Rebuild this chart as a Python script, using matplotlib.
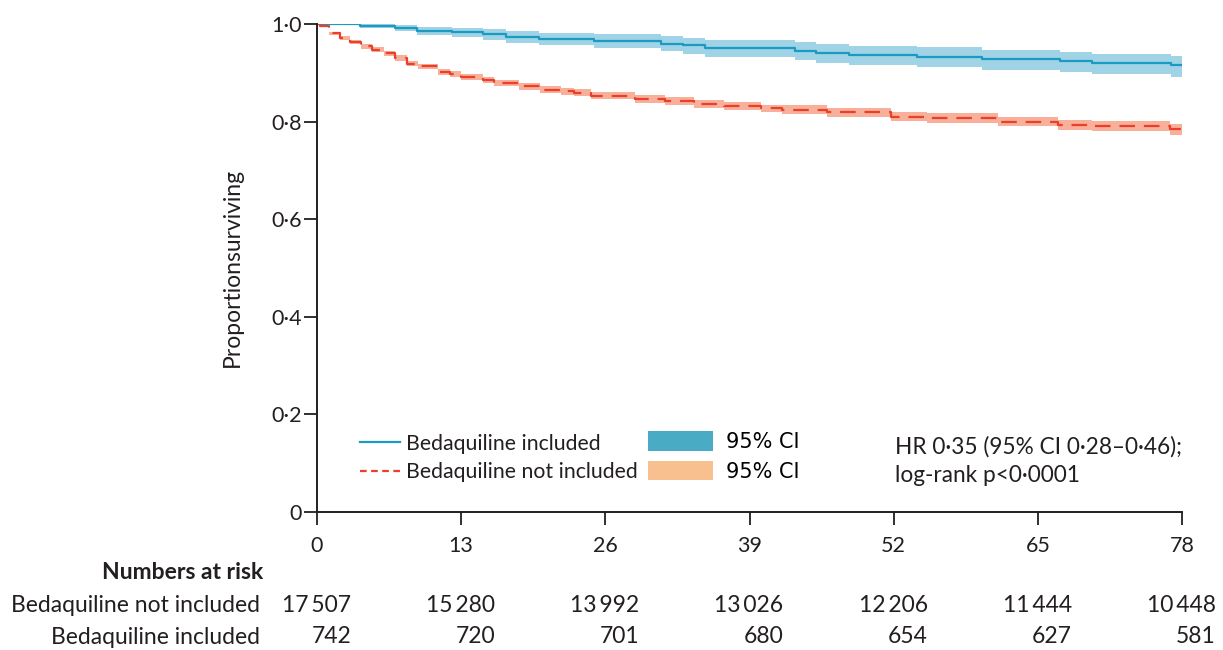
import matplotlib
matplotlib.use("Agg")
import matplotlib.pyplot as plt
from matplotlib.lines import Line2D
from matplotlib.patches import Patch
from matplotlib.transforms import offset_copy

plt.rcParams['font.family'] = ['Lato', 'DejaVu Sans']

# Kaplan-Meier step estimates (weeks since treatment start)
bdq_weeks = [0, 3.9, 7, 9, 12.2, 15, 17, 20, 25, 31, 33, 35, 43.1, 45, 48, 54.1, 60, 67, 69.9, 77, 78]
bdq_surv = [1.0, 0.996, 0.991, 0.986, 0.983, 0.979, 0.974, 0.969, 0.965, 0.960, 0.956,
            0.950, 0.945, 0.941, 0.937, 0.933, 0.928, 0.924, 0.920, 0.915, 0.915]
bdq_upper = [1.0, 0.999, 0.997, 0.994, 0.992, 0.989, 0.986, 0.982, 0.979, 0.975, 0.972,
             0.967, 0.963, 0.959, 0.955, 0.952, 0.947, 0.943, 0.939, 0.934, 0.934]
bdq_lower = [1.0, 0.991, 0.985, 0.978, 0.974, 0.968, 0.962, 0.956, 0.950, 0.944, 0.939,
             0.932, 0.926, 0.921, 0.916, 0.912, 0.906, 0.901, 0.897, 0.891, 0.891]

nobdq_weeks = [0, 0.3, 1.1, 2.1, 3.0, 4.0, 5.0, 6.0, 7.0, 8.1, 9.1, 10.9, 12.0, 13.0, 15.0,
               16.0, 18.2, 20.1, 22.0, 23.2, 24.7, 28.7, 31.4, 34.0, 36.7, 40.0, 41.9, 46.0,
               51.8, 55.0, 61.4, 66.8, 69.9, 76.9, 78.0]
nobdq_surv = [1.0, 0.995, 0.981, 0.971, 0.964, 0.954, 0.947, 0.940, 0.930, 0.919, 0.913,
              0.902, 0.898, 0.892, 0.885, 0.879, 0.872, 0.865, 0.862, 0.859, 0.853, 0.846,
              0.842, 0.836, 0.832, 0.827, 0.824, 0.819, 0.810, 0.807, 0.800, 0.793, 0.791,
              0.784, 0.784]
nobdq_upper = [1.0, 0.997, 0.984, 0.975, 0.968, 0.959, 0.952, 0.945, 0.936, 0.925, 0.919,
               0.908, 0.904, 0.898, 0.891, 0.886, 0.879, 0.872, 0.869, 0.866, 0.860, 0.854,
               0.850, 0.844, 0.840, 0.835, 0.833, 0.828, 0.819, 0.817, 0.810, 0.804, 0.802,
               0.796, 0.796]
nobdq_lower = [1.0, 0.993, 0.978, 0.967, 0.960, 0.949, 0.942, 0.935, 0.924, 0.913, 0.907,
               0.896, 0.892, 0.886, 0.879, 0.872, 0.865, 0.858, 0.855, 0.852, 0.846, 0.838,
               0.834, 0.828, 0.824, 0.819, 0.815, 0.810, 0.801, 0.797, 0.790, 0.782, 0.780,
               0.772, 0.772]

# numbers at risk table
risk_weeks = [0, 13, 26, 39, 52, 65, 78]
risk_nobdq = ["17\u2009507", "15\u2009280", "13\u2009992", "13\u2009026", "12\u2009206", "11\u2009444", "10\u2009448"]
risk_bdq = ["742", "720", "701", "680", "654", "627", "581"]

y_ticks = [0, 0.2, 0.4, 0.6, 0.8, 1.0]
y_ticklabels = ["0", "0\u00b72", "0\u00b74", "0\u00b76", "0\u00b78", "1\u00b70"]

blue = "#1b9bc2"
blue_band = "#9fd3e5"
red = "#ea3f2b"
red_band = "#f8b09a"
ink = "#231f20"

fig = plt.figure(figsize=(12.23, 6.5), dpi=100)
ax = fig.add_axes([0.2592, 0.2123, 0.7073, 0.7508])

ax.fill_between(bdq_weeks, bdq_lower, bdq_upper, step="post", color=blue_band, lw=0)
ax.fill_between(nobdq_weeks, nobdq_lower, nobdq_upper, step="post", color=red_band, lw=0)
ax.step(bdq_weeks, bdq_surv, where="post", color=blue, lw=1.6)
ax.step(nobdq_weeks, nobdq_surv, where="post", color=red, lw=1.6, dashes=(7, 4))

ax.set_xlim(0, 78)
ax.set_ylim(0, 1.0)
ax.set_xticks(risk_weeks)
ax.set_xticklabels([str(w) for w in risk_weeks])
ax.set_yticks(y_ticks)
ax.set_yticklabels(y_ticklabels)
ax.tick_params(direction="out", length=9.5, width=1.3, labelsize=15.5, colors=ink, pad=1.5)
ax.tick_params(axis="x", pad=8)
for side in ("top", "right"):
    ax.spines[side].set_visible(False)
for side in ("left", "bottom"):
    ax.spines[side].set_linewidth(1.4)
    ax.spines[side].set_color(ink)

fig.text(0.190, 0.588, "Proportionsurviving", rotation=90, ha="center", va="center",
         fontsize=16.5, color=ink)

# legend: curves
line_handles = [Line2D([], [], color=blue, lw=1.6),
                Line2D([], [], color=red, lw=1.6, dashes=(3, 2))]
leg1 = ax.legend(line_handles, ["Bedaquiline included", "Bedaquiline not included"],
                 loc="center left", bbox_to_anchor=(0.2944, 0.2954),
                 bbox_transform=fig.transFigure, frameon=False, fontsize=15.3,
                 handlelength=1.9, handletextpad=0.25, labelspacing=0.42,
                 borderpad=0, borderaxespad=0)
for t in leg1.get_texts():
    t.set_color(ink)
ax.add_artist(leg1)

# legend: confidence bands
band_handles = [Patch(color="#4aabc5", lw=0), Patch(color="#f9c08f", lw=0)]
leg2 = ax.legend(band_handles, ["95% CI", "95% CI"],
                 loc="center left", bbox_to_anchor=(0.5298, 0.2977),
                 bbox_transform=fig.transFigure, frameon=False,
                 prop={"family": "DejaVu Sans", "size": 15},
                 handlelength=3.1, handleheight=1.05, handletextpad=0.65,
                 labelspacing=0.42, borderpad=0, borderaxespad=0)

fig.text(0.7318, 0.3123, "HR 0\u00b735 (95% CI 0\u00b728\u20130\u00b746);", ha="left", va="center",
         fontsize=16.3, color=ink)
fig.text(0.7318, 0.2677, "log-rank p<0\u00b70001", ha="left", va="center",
         fontsize=16.3, color=ink)

# numbers at risk
fig.text(0.215, 0.1185, "Numbers at risk", ha="right", va="center", fontsize=16.5,
         fontweight="bold", color=ink)
fig.text(0.213, 0.0692, "Bedaquiline not included", ha="right", va="center", fontsize=16.5, color=ink)
fig.text(0.213, 0.020, "Bedaquiline included", ha="right", va="center", fontsize=16.5, color=ink)
row_tf = offset_copy(ax.get_xaxis_transform(), fig=fig, x=34, y=0, units="dots")
for w, a, b in zip(risk_weeks, risk_nobdq, risk_bdq):
    ax.text(w, -0.1906, a, transform=row_tf, ha="right", va="center", fontsize=16.5,
            color=ink, clip_on=False)
    ax.text(w, -0.2561, b, transform=row_tf, ha="right", va="center", fontsize=16.5,
            color=ink, clip_on=False)

fig.savefig("out.png", dpi=100)
